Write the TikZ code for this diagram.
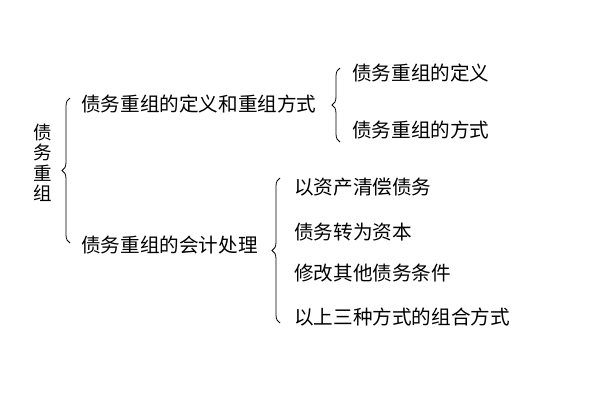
\documentclass[tikz,border=0pt]{standalone}
\usepackage{fontspec}
\newfontfamily\cjk{Noto Sans CJK SC}
\usetikzlibrary{decorations.pathreplacing}
\begin{document}
\begin{tikzpicture}[x=1pt,y=-1pt,
  lbl/.style={font=\cjk\fontsize{19.6}{21}\selectfont,anchor=west,inner sep=0pt},
  br/.style={draw,thick,decorate,decoration={brace,amplitude=8pt}}]
\useasboundingbox (0,0) rectangle (600,400);
\node[font=\cjk\fontsize{18.5}{20.5}\selectfont,align=center,inner sep=0pt] (root) at (43,163) {债\\务\\重\\组};
\coordinate (b1t) at (70,98); \coordinate (b1b) at (70,243);
\draw[br] (b1b) -- (b1t);
\node[lbl] (a) at (81,104) {债务重组的定义和重组方式};
\node[lbl] (b) at (81,245) {债务重组的会计处理};
\coordinate (b2t) at (340,68); \coordinate (b2b) at (340,142);
\draw[br] (b2b) -- (b2t);
\node[lbl] (a1) at (352,73) {债务重组的定义};
\node[lbl] (a2) at (352,130) {债务重组的方式};
\coordinate (b3t) at (280,178); \coordinate (b3b) at (280,323);
\draw[br] (b3b) -- (b3t);
\node[lbl] (c1) at (294,187) {以资产清偿债务};
\node[lbl] (c2) at (294,232) {债务转为资本};
\node[lbl] (c3) at (294,273) {修改其他债务条件};
\node[lbl] (c4) at (294,317) {以上三种方式的组合方式};
\end{tikzpicture}
\end{document}
